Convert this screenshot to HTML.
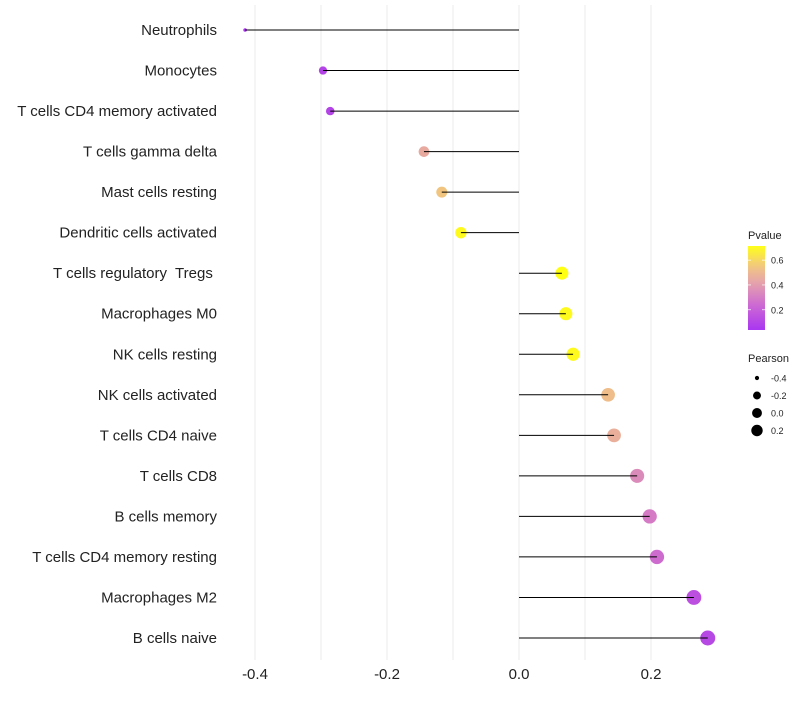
<!DOCTYPE html>
<html><head><meta charset="utf-8"><style>
body{margin:0;background:#fff;font-family:"Liberation Sans",sans-serif}
text{white-space:pre}
</style></head><body>
<svg id="chart" width="800" height="700" xmlns="http://www.w3.org/2000/svg" font-family="Liberation Sans, sans-serif"></svg>
<script>
const categories=["Neutrophils","Monocytes","T cells CD4 memory activated","T cells gamma delta","Mast cells resting","Dendritic cells activated","T cells regulatory  Tregs ","Macrophages M0","NK cells resting","NK cells activated","T cells CD4 naive","T cells CD8","B cells memory","T cells CD4 memory resting","Macrophages M2","B cells naive"];
const pearson=[-0.415,-0.297,-0.286,-0.144,-0.117,-0.088,0.065,0.071,0.082,0.135,0.144,0.179,0.198,0.209,0.265,0.286];
const pvalue=[0.05,0.1,0.1,0.45,0.55,0.7,0.72,0.7,0.7,0.52,0.47,0.35,0.3,0.25,0.15,0.12];
const xTicks=[-0.4,-0.2,0.0,0.2];
const xTickLabels=["-0.4","-0.2","0.0","0.2"];
const gridVals=[-0.4,-0.3,-0.2,-0.1,0,0.1,0.2];
const pTicks=[0.2,0.4,0.6];
const sizeTicks=[-0.4,-0.2,0.0,0.2];

const svg=document.getElementById('chart');
const NS='http://www.w3.org/2000/svg';
function mk(tag,attrs,parent){const e=document.createElementNS(NS,tag);for(const k in attrs)e.setAttribute(k,attrs[k]);(parent||svg).appendChild(e);return e;}
const x=v=>519+v*660;
const y=i=>30+i*(608/15);
const pMin=0.037,pMax=0.714;
const stops=[[0,[160,32,240]],[0.3,[200,90,205]],[0.55,[225,150,165]],[0.75,[240,190,120]],[1,[255,255,0]]];
function col(p){let t=Math.max(0,Math.min(1,(p-pMin)/(pMax-pMin)));for(let i=1;i<stops.length;i++){if(t<=stops[i][0]){const a=stops[i-1],b=stops[i];const f=(t-a[0])/(b[0]-a[0]);const c=a[1].map((v,k)=>Math.round(v+(b[1][k]-v)*f));return `rgb(${c})`;}}return 'rgb(255,255,0)';}
const vMin=Math.min(...pearson),vMax=Math.max(...pearson);
const r=v=>{const t=Math.max(0,(v-vMin)/(vMax-vMin));return 1.8+5.7*Math.sqrt(t);};

gridVals.forEach(g=>{const l=mk('line',{x1:x(g),x2:x(g),y1:5,y2:660,stroke:'#ebebeb','stroke-width':1});
});
xTicks.forEach((t,i)=>{const e=mk('text',{x:x(t),y:679,'text-anchor':'middle','font-size':15,fill:'#222'});e.textContent=xTickLabels[i];
});
categories.forEach((c,i)=>{
 const t=mk('text',{x:217,y:y(i)+5,'text-anchor':'end','font-size':15,fill:'#222'});t.textContent=c;
 
 const pt=mk('circle',{cx:x(pearson[i]),cy:y(i),r:r(pearson[i]),fill:col(pvalue[i]),'fill-opacity':0.92});
 
 const ln=mk('line',{x1:x(0),x2:x(pearson[i]),y1:y(i),y2:y(i),stroke:'#000','stroke-width':1});
 
});
const lt=mk('text',{x:748,y:239,'font-size':11,fill:'#222'});lt.textContent='Pvalue';

const defs=mk('defs',{});const lg=mk('linearGradient',{id:'pg',x1:0,y1:1,x2:0,y2:0},defs);
for(let k=0;k<=10;k++){mk('stop',{offset:k/10,'stop-color':col(pMin+(pMax-pMin)*k/10)},lg);}
const cb=mk('rect',{x:748,y:246,width:17,height:84,fill:'url(#pg)','fill-opacity':0.9});

const py=p=>330-(p-pMin)/(pMax-pMin)*84;
pTicks.forEach(p=>{mk('line',{x1:748,x2:751,y1:py(p),y2:py(p),stroke:'#fff','stroke-width':0.7});mk('line',{x1:762,x2:765,y1:py(p),y2:py(p),stroke:'#fff','stroke-width':0.7});
 const e=mk('text',{x:771,y:py(p)+3.5,'font-size':9,fill:'#222'});e.textContent=p.toFixed(1);
 });
const st=mk('text',{x:748,y:362,'font-size':11,fill:'#222'});st.textContent='Pearson';

sizeTicks.forEach((s,i)=>{const cy=378+i*17.5;mk('circle',{cx:757,cy:cy,r:r(s)*0.8,fill:'#000'});
 const e=mk('text',{x:771,y:cy+3.5,'font-size':9,fill:'#222'});e.textContent=s.toFixed(1);
 });
</script>
</body></html>
